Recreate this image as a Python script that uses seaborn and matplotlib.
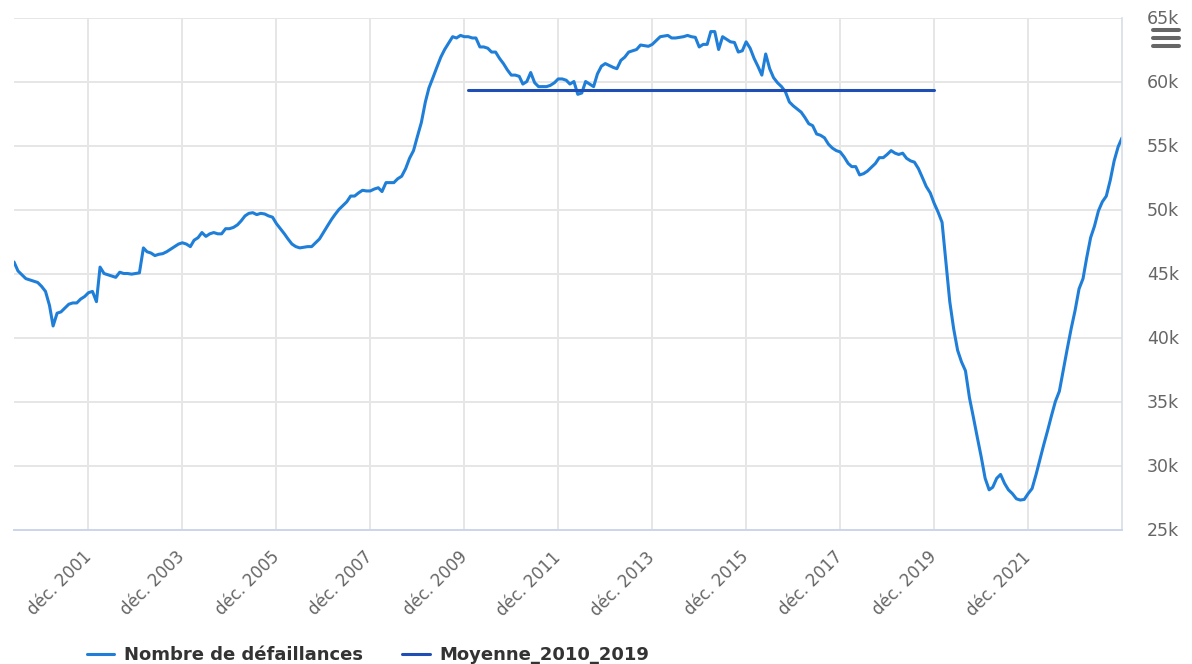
import matplotlib
matplotlib.use("Agg")
import matplotlib.pyplot as plt
from matplotlib.lines import Line2D
import pandas as pd
import seaborn as sns

# monthly series, May 2000 -> Dec 2023 (values in number of failures)
START_MONTH = "2000-05-01"
DEFAILLANCES_K = [
    # 2000 (May-Dec)
    45.9, 45.2, 44.9, 44.6, 44.5, 44.4, 44.3, 44.0,
    # 2001
    43.6, 42.5, 40.9, 41.9, 42.0, 42.3, 42.6, 42.7, 42.7, 43.0, 43.2, 43.5,
    # 2002
    43.6, 42.8, 45.5, 45.0, 44.9, 44.8, 44.7, 45.1, 45.0, 45.0, 44.95, 45.0,
    # 2003
    45.05, 47.0, 46.7, 46.6, 46.4, 46.5, 46.55, 46.7, 46.9, 47.1, 47.3, 47.4,
    # 2004
    47.3, 47.1, 47.6, 47.8, 48.2, 47.9, 48.1, 48.2, 48.1, 48.1, 48.5, 48.5,
    # 2005
    48.6, 48.8, 49.1, 49.5, 49.7, 49.75, 49.6, 49.7, 49.65, 49.5, 49.4, 48.9,
    # 2006
    48.5, 48.1, 47.7, 47.3, 47.1, 47.0, 47.05, 47.1, 47.1, 47.4, 47.7, 48.2,
    # 2007
    48.7, 49.2, 49.6, 50.0, 50.3, 50.6, 51.05, 51.05, 51.3, 51.5, 51.45, 51.45,
    # 2008
    51.6, 51.7, 51.4, 52.1, 52.1, 52.1, 52.4, 52.6, 53.2, 54.0, 54.6, 55.7,
    # 2009
    56.8, 58.4, 59.5, 60.3, 61.1, 61.9, 62.5, 63.0, 63.5, 63.4, 63.6, 63.5,
    # 2010
    63.5, 63.4, 63.4, 62.7, 62.7, 62.6, 62.3, 62.3, 61.8, 61.4, 60.9, 60.5,
    # 2011
    60.5, 60.4, 59.8, 60.0, 60.7, 59.9, 59.6, 59.6, 59.6, 59.7, 59.9, 60.2,
    # 2012
    60.2, 60.1, 59.8, 60.0, 59.0, 59.1, 60.0, 59.8, 59.6, 60.6, 61.2, 61.4,
    # 2013
    61.25, 61.1, 61.0, 61.65, 61.9, 62.3, 62.4, 62.5, 62.85, 62.8, 62.75, 62.9,
    # 2014
    63.2, 63.5, 63.55, 63.6, 63.4, 63.4, 63.45, 63.5, 63.6, 63.5, 63.45, 62.7,
    # 2015
    62.9, 62.9, 63.9, 63.9, 62.5, 63.5, 63.3, 63.1, 63.05, 62.3, 62.4, 63.1,
    # 2016
    62.6, 61.8, 61.2, 60.5, 62.15, 61.0, 60.3, 59.9, 59.6, 59.2, 58.4, 58.1,
    # 2017
    57.85, 57.6, 57.2, 56.7, 56.55, 55.9, 55.8, 55.6, 55.1, 54.8, 54.6, 54.5,
    # 2018
    54.1, 53.6, 53.35, 53.35, 52.7, 52.8, 53.0, 53.3, 53.6, 54.05, 54.05, 54.3,
    # 2019
    54.6, 54.4, 54.3, 54.4, 54.0, 53.8, 53.7, 53.2, 52.5, 51.8, 51.3, 50.5,
    # 2020
    49.8, 49.0, 46.0, 42.8, 40.7, 39.0, 38.1, 37.4, 35.3, 33.8, 32.2, 30.7,
    # 2021
    29.0, 28.1, 28.3, 29.0, 29.3, 28.6, 28.1, 27.8, 27.4, 27.3, 27.35, 27.8,
    # 2022
    28.2, 29.3, 30.4, 31.6, 32.7, 33.9, 35.0, 35.8, 37.5, 39.1, 40.7, 42.1,
    # 2023
    43.8, 44.6, 46.2, 47.8, 48.7, 49.9, 50.6, 51.05, 52.3, 53.8, 54.9, 55.6,
]

MEAN_START = "2010-01-01"
MEAN_END = "2019-12-01"
MEAN_2010_2019 = 59350

X_TICK_YEARS = [2001, 2003, 2005, 2007, 2009, 2011, 2013, 2015, 2017, 2019, 2021]
X_TICK_LABELS = [f"déc. {y}" for y in X_TICK_YEARS]
Y_TICKS = [25000, 30000, 35000, 40000, 45000, 50000, 55000, 60000, 65000]
Y_TICK_LABELS = ["25k", "30k", "35k", "40k", "45k", "50k", "55k", "60k", "65k"]

LABEL_MAIN = "Nombre de défaillances"
LABEL_MEAN = "Moyenne_2010_2019"

dates = pd.date_range(START_MONTH, periods=len(DEFAILLANCES_K), freq="MS")
df = pd.DataFrame({"date": dates, "valeur": [v * 1000 for v in DEFAILLANCES_K]})
mean_dates = pd.date_range(MEAN_START, MEAN_END, freq="MS")
df_mean = pd.DataFrame({"date": mean_dates, "valeur": MEAN_2010_2019})

sns.set_theme(style="white")
plt.rcParams["font.family"] = ["DejaVu Sans"]

W, H = 1192, 664
fig = plt.figure(figsize=(W / 100, H / 100), dpi=100)
ax = fig.add_axes([14 / W, 1 - 529.5 / H, (1122 - 14) / W, (529.5 - 17.5) / H])

sns.lineplot(data=df, x="date", y="valeur", ax=ax, color="#1f7fd8",
             linewidth=2.2, label=LABEL_MAIN)
sns.lineplot(data=df_mean, x="date", y="valeur", ax=ax, color="#1f4fb4",
             linewidth=2.2, label=LABEL_MEAN)

ax.set_xlim(dates[0], dates[-1])
ax.set_ylim(25000, 65000)

xticks = [pd.Timestamp(f"{y}-12-01") for y in X_TICK_YEARS]
ax.set_xticks(xticks)
ax.set_xticklabels(X_TICK_LABELS, rotation=45, ha="right", va="center",
                   rotation_mode="anchor", fontsize=12, color="#666666")
ax.set_yticks(Y_TICKS)
ax.set_yticklabels(Y_TICK_LABELS, fontsize=12.5, color="#666666")
ax.yaxis.tick_right()
ax.tick_params(axis="x", length=0, pad=18)
ax.tick_params(axis="y", length=0, pad=18)
ax.set_xlabel("")
ax.set_ylabel("")

ax.grid(True, color="#e6e6e6", linewidth=1.4)
ax.set_axisbelow(True)
for side in ["top", "left"]:
    ax.spines[side].set_visible(False)
ax.spines["bottom"].set_color("#ccd6eb")
ax.spines["bottom"].set_linewidth(1.4)
ax.spines["right"].set_color("#d8dde6")
ax.spines["right"].set_linewidth(1.2)

handles, labels = ax.get_legend_handles_labels()
ax.get_legend().remove()
leg = fig.legend(handles, labels, loc="center", bbox_to_anchor=(368 / W, 1 - 655 / H),
                 ncol=2, frameon=False, handlelength=1.5, handletextpad=0.55,
                 columnspacing=2.2, prop={"weight": "bold", "size": 13})
for t in leg.get_texts():
    t.set_color("#333333")

# export menu icon (three bars)
for yy in [29.5, 37.5, 45.5]:
    fig.add_artist(Line2D([1153 / W, 1179 / W], [1 - yy / H, 1 - yy / H],
                          transform=fig.transFigure, color="#666666",
                          linewidth=2.9, solid_capstyle="round"))

fig.savefig("out.png", dpi=100)
